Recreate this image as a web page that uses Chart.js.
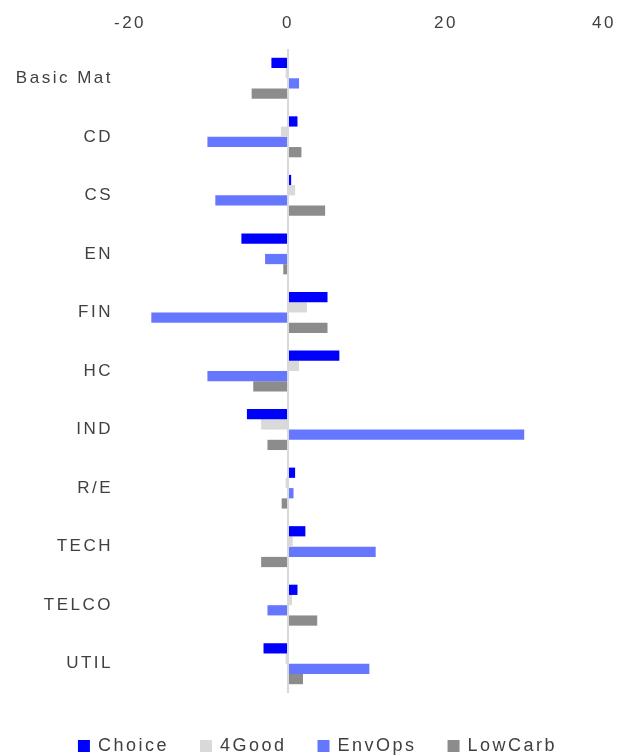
<!DOCTYPE html>
<html>
<head>
<meta charset="utf-8">
<script src="https://cdn.jsdelivr.net/npm/chart.js@4"></script>
<style>
  html, body { margin: 0; padding: 0; background: #fff; }
  #wrap { width: 618px; height: 756px; }
</style>
</head>
<body>
<div id="wrap"><canvas id="chart"></canvas></div>
<script>
// sectors and series
const sectors = ["Basic Mat", "CD", "CS", "EN", "FIN", "HC", "IND", "R/E", "TECH", "TELCO", "UTIL"];
const choice  = [-2.1, 1.2, 0.4, -5.9, 5.0, 6.5, -5.2, 0.9, 2.2, 1.2, -3.1];
const good4   = [-0.3, -0.9, 0.9, 0.0, 2.4, 1.4, -3.4, -0.3, 0.6, 0.5, -0.3];
const envOps  = [1.4, -10.2, -9.2, -2.9, -17.3, -10.2, 29.9, 0.7, 11.1, -2.6, 10.3];
const lowCarb = [-4.6, 1.7, 4.7, -0.6, 5.0, -4.4, -2.6, -0.8, -3.4, 3.7, 1.9];
const xTicks  = [-20, 0, 20, 40];

const font = { family: "'Liberation Sans', Arial, sans-serif", size: 17 };
const textColor = "#404040";

// the old office-style text is spread out a bit
const spacing = {
  id: "spacing",
  beforeLayout(chart) { chart.ctx.letterSpacing = "2.5px"; },
  beforeDraw(chart) { chart.ctx.letterSpacing = "2.5px"; },
};

// legend row sits a little right of centre in the original
const legendNudge = {
  id: "legendNudge",
  afterLayout(chart) {
    chart.legend.left += 9;
    chart.legend.right += 9;
  },
};

new Chart(document.getElementById("chart"), {
  type: "bar",
  data: {
    labels: sectors,
    datasets: [
      { label: "Choice",  data: choice,  backgroundColor: "#0000FF" },
      { label: "4Good",   data: good4,   backgroundColor: "#D9D9D9" },
      { label: "EnvOps",  data: envOps,  backgroundColor: "#6677FF" },
      { label: "LowCarb", data: lowCarb, backgroundColor: "#8C8C8C" },
    ],
  },
  plugins: [spacing, legendNudge],
  options: {
    indexAxis: "y",
    responsive: true,
    maintainAspectRatio: false,
    animation: false,
    layout: { padding: { top: 8, left: 0, right: 0, bottom: -9 } },
    datasets: { bar: { categoryPercentage: 0.7, barPercentage: 1.0, borderWidth: 0 } },
    plugins: {
      tooltip: { enabled: false },
      legend: {
        position: "bottom",
        title: { display: true, text: "", font: { size: 10 }, padding: 0 },
        labels: {
          font: { family: font.family, size: 18 },
          color: textColor,
          usePointStyle: true,
          pointStyle: "rect",
          boxWidth: 10,
          boxHeight: 12,
          padding: 32,
        },
      },
    },
    scales: {
      x: {
        position: "top",
        min: -20,
        max: 40,
        afterBuildTicks: (s) => { s.ticks = xTicks.map((v) => ({ value: v })); },
        afterFit: (s) => { s.height = 41; s.paddingLeft = 0; s.paddingRight = 14; },
        ticks: { font: font, color: textColor, padding: 15 },
        border: { display: false },
        grid: {
          drawTicks: false,
          lineWidth: 2,
          color: (ctx) => (ctx.tick && ctx.tick.value === 0 ? "#D9D9D9" : "rgba(0,0,0,0)"),
        },
      },
      y: {
        afterFit: (s) => { s.width = 130; },
        ticks: { font: font, color: textColor, padding: 17 },
        border: { display: false },
        grid: { display: false, drawTicks: false },
      },
    },
  },
});
</script>
</body>
</html>
